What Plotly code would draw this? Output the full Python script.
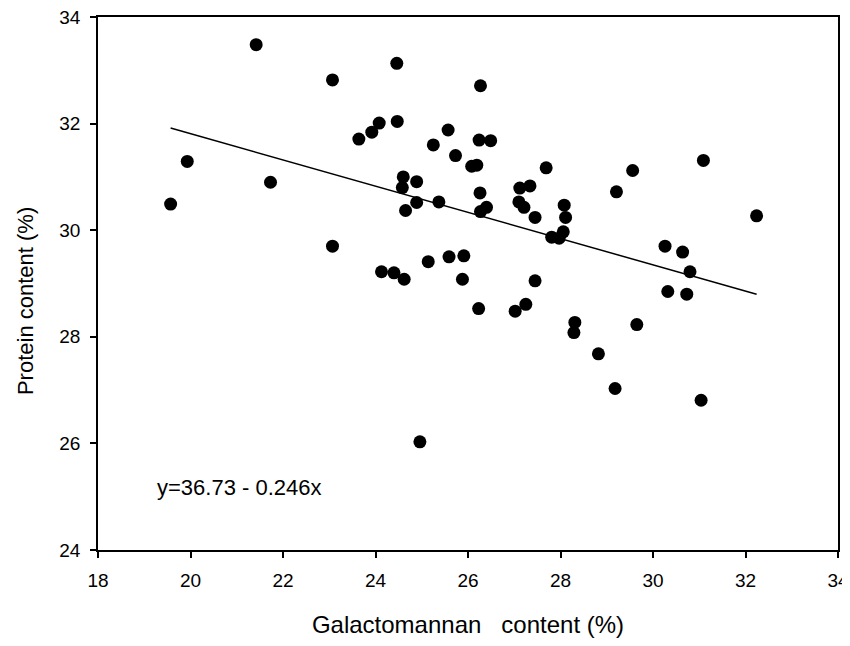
import plotly.graph_objects as go

galactomannan = [19.57, 19.93, 21.42, 21.73, 23.07, 23.07, 23.64, 23.92, 24.08, 24.46,
                 24.47, 24.13, 24.40, 24.62, 24.60, 24.58, 24.89, 24.89, 24.65, 24.96,
                 25.25, 25.14, 25.37, 25.57, 25.73, 25.59, 25.91, 25.88, 26.27, 26.24,
                 26.49, 26.08, 26.19, 27.69, 29.56, 31.09, 26.26, 27.12, 27.34, 29.21,
                 27.10, 27.21, 26.40, 26.27, 28.08, 28.11, 27.45, 32.24, 27.81, 27.97,
                 28.06, 30.26, 30.64, 30.80, 27.45, 30.32, 30.73, 26.23, 27.02, 27.25,
                 28.31, 28.29, 29.65, 28.82, 29.18, 31.04]
protein = [30.49, 31.29, 33.48, 30.90, 32.82, 29.70, 31.71, 31.84, 32.01, 33.13,
           32.04, 29.22, 29.20, 29.08, 31.00, 30.80, 30.91, 30.52, 30.37, 26.03,
           31.60, 29.41, 30.53, 31.88, 31.40, 29.50, 29.52, 29.08, 32.71, 31.69,
           31.68, 31.20, 31.22, 31.17, 31.12, 31.31, 30.70, 30.79, 30.83, 30.72,
           30.53, 30.43, 30.43, 30.35, 30.47, 30.24, 30.24, 30.27, 29.87, 29.85,
           29.97, 29.70, 29.59, 29.22, 29.05, 28.85, 28.80, 28.53, 28.48, 28.61,
           28.27, 28.08, 28.23, 27.68, 27.03, 26.81]

intercept = 36.73
slope = -0.246
x_ticks = [18, 20, 22, 24, 26, 28, 30, 32, 34]
y_ticks = [24, 26, 28, 30, 32, 34]

x_fit = [min(galactomannan), max(galactomannan)]
y_fit = [intercept + slope * v for v in x_fit]

font = "Liberation Sans, Arial, sans-serif"

fig = go.Figure()
fig.add_trace(go.Scatter(x=x_fit, y=y_fit, mode="lines",
                         line=dict(color="black", width=1.5), showlegend=False))
fig.add_trace(go.Scatter(x=galactomannan, y=protein, mode="markers",
                         marker=dict(color="black", size=13), showlegend=False))

fig.add_annotation(x=19.23, y=25.18, xref="x", yref="y", xanchor="left", yanchor="middle",
                   text="y=36.73 - 0.246x", showarrow=False,
                   font=dict(family=font, size=22, color="black"))

# y-axis title (placed slightly below the centre, as in the reference)
fig.add_annotation(x=0, y=0.467, xref="paper", yref="paper", xanchor="center",
                   yanchor="middle", xshift=-73, textangle=-90,
                   text="Protein content (%)", showarrow=False,
                   font=dict(family=font, size=22, color="black"))

axis_common = dict(showgrid=False, zeroline=False, showline=True, linecolor="black",
                   linewidth=1.5, mirror=True, ticks="outside", ticklen=6,
                   tickwidth=1.5, tickcolor="black", automargin=False,
                   ticklabeloverflow="allow",
                   tickfont=dict(family=font, size=19, color="black"))

fig.update_layout(
    width=842, height=630,
    margin=dict(l=90, r=12, t=9, b=88),
    plot_bgcolor="white", paper_bgcolor="white",
    xaxis=dict(range=[18, 34], tickvals=x_ticks, ticklabelstandoff=6,
               title=dict(text="Galactomannan\u00a0\u00a0\u00a0content (%)", standoff=27,
                          font=dict(family=font, size=24, color="black")),
               **axis_common),
    yaxis=dict(range=[24, 34], tickvals=y_ticks, ticklabelstandoff=6,
               **axis_common),
)

fig.write_html("out.html")
